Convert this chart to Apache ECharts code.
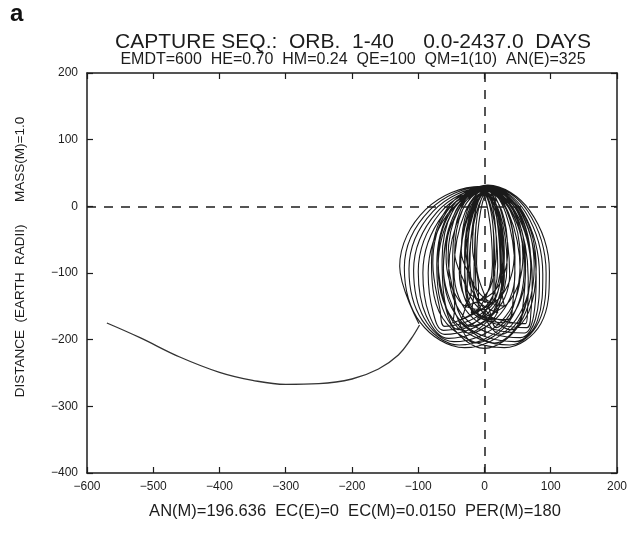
<!DOCTYPE html>
<html><head><meta charset="utf-8">
<script src="https://cdn.jsdelivr.net/npm/echarts@6/dist/echarts.min.js"></script>
<style>html,body{margin:0;padding:0;background:#fff}#c{width:630px;height:538px}</style>
</head><body><div id="c"></div>
<script>
// Axis ranges / ticks
const xTicks = [-600, -500, -400, -300, -200, -100, 0, 100, 200];
const yTicks = [-400, -300, -200, -100, 0, 100, 200];

// Texts
const panelLetter = 'a';
const titleText = 'CAPTURE SEQ.:  ORB.  1-40     0.0-2437.0  DAYS';
const subtitleText = 'EMDT=600  HE=0.70  HM=0.24  QE=100  QM=1(10)  AN(E)=325';
const yAxisTitle = 'DISTANCE  (EARTH  RADII)      MASS(M)=1.0';
const footerText = 'AN(M)=196.636  EC(E)=0  EC(M)=0.0150  PER(M)=180';

// Approach arc (x, y) in Earth radii
const approachArc = [[-570,-175],[-520,-197],[-460,-226],[-400,-249],[-350,-261],[-300,-267],[-250,-266],[-200,-259],[-160,-244],[-130,-223],[-111,-199],[-98,-178]];

// Orbits read from the loop cluster (each: LL, L, UL, T, UR, R, LR, B)
const orbitA1 = [[-99,-176],[-128,-90],[-89,-5],[-5,30],[46,-7],[70,-95],[41,-178],[-30,-212]];
const orbitA2 = [[-97,-174],[-121,-92],[-83,-6],[-3,29],[41,-8],[62,-97],[33,-175],[-38,-208]];
const orbitA3 = [[-94,-171],[-114,-94],[-78,-8],[-1,28],[36,-9],[54,-99],[25,-173],[-46,-203]];
const orbitA4 = [[-91,-168],[-107,-96],[-72,-9],[1,27],[32,-10],[46,-100],[17,-169],[-54,-198]];
const orbitA5 = [[-88,-164],[-100,-98],[-67,-10],[2,26],[26,-11],[38,-102],[9,-166],[-60,-192]];
const orbitA6 = [[-84,-161],[-93,-100],[-62,-12],[3,25],[21,-13],[30,-104],[3,-162],[-62,-186]];
const orbitA7 = [[-78,-157],[-85,-100],[-56,-12],[4,24],[18,-14],[24,-105],[-1,-158],[-60,-180]];
const orbitE1 = [[-67,-156],[-78,-85],[-57,-8],[-6,24],[12,-9],[20,-90],[2,-157],[-40,-185]];
const orbitE2 = [[-57,-158],[-70,-82],[-51,-8],[-4,23],[19,-11],[28,-92],[12,-161],[-25,-190]];
const orbitE3 = [[-59,-147],[-64,-80],[-48,-7],[-8,23],[6,-10],[12,-88],[-6,-150],[-48,-175]];
const orbitE4 = [[-45,-150],[-55,-78],[-40,-7],[-2,22],[23,-10],[34,-88],[18,-153],[-20,-180]];
const orbitE5 = [[-44,-142],[-48,-75],[-36,-5],[-6,24],[16,-7],[25,-82],[7,-144],[-35,-170]];
const orbitC1 = [[-26,-134],[-45,-70],[-33,-5],[-5,22],[9,-4],[15,-65],[16,-132],[20,-160]];
const orbitC2 = [[-16,-132],[-15,-65],[-9,-4],[5,22],[33,-5],[45,-70],[26,-134],[-20,-160]];
const orbitC3 = [[-16,-126],[-35,-68],[-26,-6],[-3,20],[17,-3],[25,-60],[26,-124],[30,-150]];
const orbitC4 = [[-26,-124],[-25,-60],[-17,-3],[3,20],[26,-6],[35,-68],[16,-126],[-30,-150]];
const orbitC5 = [[-20,-129],[-28,-65],[-20,-4],[0,21],[20,-4],[28,-65],[20,-129],[0,-155]];
const orbitC6 = [[-38,-142],[-58,-75],[-43,-6],[-8,22],[19,-5],[30,-70],[24,-141],[10,-170]];
const orbitC7 = [[-24,-141],[-30,-70],[-19,-5],[8,22],[43,-6],[58,-75],[38,-142],[-10,-170]];
const orbitC8 = [[-9,-121],[-18,-62],[-13,-4],[-2,20],[9,-3],[14,-58],[13,-120],[12,-145]];
const orbitC9 = [[-13,-120],[-14,-58],[-9,-3],[2,20],[13,-4],[18,-62],[9,-121],[-12,-145]];
const orbitF5 = [[-8,-144],[-26,-82],[-17,-7],[6,24],[34,-5],[46,-76],[43,-142],[35,-170]];
const orbitF4 = [[-20,-155],[-36,-90],[-25,-10],[2,23],[39,-7],[54,-80],[43,-152],[18,-182]];
const orbitF3 = [[6,-149],[-12,-86],[-6,-8],[8,24],[46,-8],[62,-85],[58,-149],[50,-175]];
const orbitF2 = [[-14,-163],[-30,-92],[-20,-10],[4,24],[51,-9],[70,-88],[57,-161],[25,-192]];
const orbitF1 = [[-4,-157],[-22,-88],[-14,-8],[6,25],[57,-9],[78,-92],[67,-158],[40,-185]];
const orbitB7 = [[1,-155],[-24,-104],[-13,-12],[10,26],[48,-13],[66,-108],[65,-156],[62,-176]];
const orbitB6 = [[-2,-159],[-30,-102],[-17,-11],[10,27],[52,-13],[72,-108],[70,-160],[64,-182]];
const orbitB5 = [[-9,-164],[-38,-100],[-23,-10],[9,28],[56,-11],[78,-106],[74,-165],[60,-190]];
const orbitB4 = [[-17,-168],[-46,-98],[-29,-8],[8,29],[59,-10],[83,-104],[77,-169],[54,-197]];
const orbitB3 = [[-25,-172],[-54,-96],[-34,-7],[7,30],[62,-9],[88,-102],[80,-171],[46,-203]];
const orbitB2 = [[-33,-175],[-62,-94],[-40,-6],[6,31],[65,-7],[93,-100],[82,-173],[38,-208]];
const orbitB1 = [[-41,-177],[-70,-92],[-46,-4],[5,32],[68,-6],[98,-98],[85,-176],[30,-212]];
const orbitD1 = [[-57,-176],[-80,-85],[-57,-4],[0,30],[53,-5],[75,-90],[53,-177],[0,-213]];
const orbitD2 = [[-55,-171],[-72,-88],[-52,-6],[-4,28],[41,-7],[60,-92],[38,-172],[-15,-205]];
const orbitD3 = [[-39,-172],[-62,-92],[-43,-7],[4,28],[51,-6],[70,-88],[54,-171],[15,-205]];

const orbits = [orbitA1, orbitA2, orbitA3, orbitA4, orbitA5, orbitA6, orbitA7,
  orbitE1, orbitE2, orbitE3, orbitE4, orbitE5,
  orbitC1, orbitC2, orbitC3, orbitC4, orbitC5, orbitC6, orbitC7, orbitC8, orbitC9,
  orbitF5, orbitF4, orbitF3, orbitF2, orbitF1,
  orbitB7, orbitB6, orbitB5, orbitB4, orbitB3, orbitB2, orbitB1,
  orbitD1, orbitD2, orbitD3];

const loopPath = [];
orbits.forEach(o => o.forEach(p => loopPath.push(p)));
loopPath.push(orbits[orbits.length - 1][0]);

const ink = '#1c1c1c';
const fmt = v => (v < 0 ? '\u2212' + Math.abs(v) : String(v));
const FONT = 'Liberation Sans, Arial, sans-serif';

const chart = echarts.init(document.getElementById('c'), null, {renderer: 'canvas'});
const axisCommon = {
  type: 'value',
  axisLine: {show: true, onZero: false, lineStyle: {color: ink, width: 1.5}},
  axisTick: {show: true, inside: true, length: 6, lineStyle: {color: ink, width: 1.2}},
  splitLine: {show: false}
};
chart.setOption({
  animation: false,
  backgroundColor: '#fff',
  grid: {left: 87, right: 10, top: 73, bottom: 65},
  xAxis: [
    Object.assign({}, axisCommon, {position: 'bottom', min: xTicks[0], max: xTicks[xTicks.length-1], interval: 100,
      axisLabel: {color: ink, fontSize: 12, fontFamily: FONT, margin: 8, formatter: fmt}}),
    Object.assign({}, axisCommon, {position: 'top', min: xTicks[0], max: xTicks[xTicks.length-1], interval: 100,
      axisLabel: {show: false}})
  ],
  yAxis: [
    Object.assign({}, axisCommon, {position: 'left', min: yTicks[0], max: yTicks[yTicks.length-1], interval: 100,
      axisLabel: {color: ink, fontSize: 12, fontFamily: FONT, margin: 9, formatter: fmt}}),
    Object.assign({}, axisCommon, {position: 'right', min: yTicks[0], max: yTicks[yTicks.length-1], interval: 100,
      axisLabel: {show: false}})
  ],
  series: [
    {
      type: 'line', data: approachArc, smooth: 0.4, symbol: 'none',
      lineStyle: {color: '#333', width: 1.3},
      markLine: {
        silent: true, symbol: 'none', label: {show: false},
        lineStyle: {color: ink, width: 1.5, type: [9, 8]},
        data: [{xAxis: 0}, {yAxis: 0}]
      }
    },
    {
      type: 'line', data: loopPath, smooth: 0.37, symbol: 'none',
      lineStyle: {color: '#1a1a1a', width: 1.1}
    }
  ],
  graphic: [
    {type: 'text', left: 10, top: 2, style: {text: panelLetter, font: 'bold 24px ' + FONT, fill: '#111'}},
    {type: 'text', x: 353, y: 42, style: {text: titleText, font: '21px ' + FONT, fill: ink, textAlign: 'center', textVerticalAlign: 'middle'}},
    {type: 'text', x: 353, y: 60, style: {text: subtitleText, font: '16px ' + FONT, fill: ink, textAlign: 'center', textVerticalAlign: 'middle'}},
    {type: 'text', x: 355, y: 511, style: {text: footerText, font: '16.5px ' + FONT, fill: ink, textAlign: 'center', textVerticalAlign: 'middle'}},
    {type: 'text', x: 20, y: 257, rotation: Math.PI / 2, style: {text: yAxisTitle, font: '13.5px ' + FONT, fill: ink, textAlign: 'center', textVerticalAlign: 'middle'}}
  ]
});
</script>
</body></html>
